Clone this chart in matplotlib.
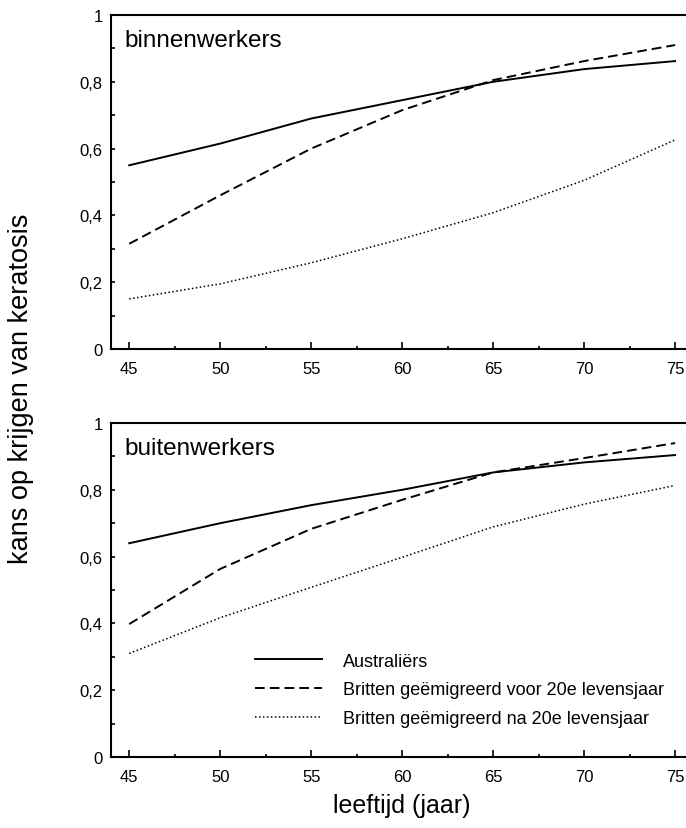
"""Kans op keratosis naar leeftijd, binnen- en buitenwerkers."""

import matplotlib

matplotlib.use("Agg")
import matplotlib.pyplot as plt
from matplotlib.ticker import FixedLocator, MultipleLocator

plt.rcParams["font.family"] = ["Liberation Sans", "DejaVu Sans"]

leeftijd = [45, 50, 55, 60, 65, 70, 75]

# binnenwerkers
binnen_aus = [0.55, 0.615, 0.69, 0.745, 0.80, 0.838, 0.862]
binnen_voor20 = [0.315, 0.46, 0.60, 0.715, 0.805, 0.862, 0.91]
binnen_na20 = [0.15, 0.195, 0.258, 0.33, 0.408, 0.505, 0.626]

# buitenwerkers
buiten_aus = [0.64, 0.70, 0.754, 0.80, 0.852, 0.882, 0.904]
buiten_voor20 = [0.398, 0.563, 0.683, 0.77, 0.852, 0.895, 0.94]
buiten_na20 = [0.31, 0.417, 0.508, 0.598, 0.689, 0.757, 0.813]

reeksen = ["Australiërs",
           "Britten geëmigreerd voor 20e levensjaar",
           "Britten geëmigreerd na 20e levensjaar"]
y_ticks = [0, 0.2, 0.4, 0.6, 0.8, 1.0]
y_labels = ["0", "0,2", "0,4", "0,6", "0,8", "1"]

W, H = 686, 829
fig = plt.figure(figsize=(W / 100, H / 100), dpi=100)

left = 111 / W
width = 1.0 - left
ax_top = fig.add_axes([left, 1 - 350 / H, width, 334 / H])
ax_bot = fig.add_axes([left, 1 - 758 / H, width, 334 / H])

styles = [
    dict(color="black", lw=1.4, linestyle="-"),
    dict(color="black", lw=1.4, linestyle=(0, (5, 2.6))),
    dict(color="black", lw=1.1, linestyle=(0, (1, 1.6))),
]


def draw_panel(ax, series, title):
    for vals, st, name in zip(series, styles, reeksen):
        ax.plot(leeftijd, vals, label=name, **st)
    ax.set_xlim(44.0, 75.6)
    ax.set_ylim(0, 1)
    ax.set_xticks(leeftijd)
    ax.xaxis.set_minor_locator(MultipleLocator(2.5))
    ax.yaxis.set_major_locator(FixedLocator(y_ticks))
    ax.set_yticklabels(y_labels)
    ax.yaxis.set_minor_locator(FixedLocator([0.1, 0.3, 0.5, 0.7, 0.9]))
    ax.tick_params(which="both", direction="in", width=1.2, labelsize=12,
                   top=False, right=False)
    ax.tick_params(axis="x", which="major", length=4.8, pad=8.5)
    ax.tick_params(axis="x", which="minor", length=2)
    ax.tick_params(axis="y", which="both", length=3, pad=6)
    for side in ("left", "bottom", "top"):
        ax.spines[side].set_linewidth(1.5)
    ax.spines["right"].set_visible(False)
    ax.text(0.023, 0.908, title, transform=ax.transAxes, fontsize=17.5,
            va="baseline", ha="left")


draw_panel(ax_top, [binnen_aus, binnen_voor20, binnen_na20], "binnenwerkers")
draw_panel(ax_bot, [buiten_aus, buiten_voor20, buiten_na20], "buitenwerkers")

ax_bot.legend(loc="upper left", bbox_to_anchor=(0.2504, 0.312), frameon=False,
              fontsize=13, handlelength=3.7, handletextpad=1.16,
              labelspacing=0.64, borderpad=0, borderaxespad=0)

fig.text(21 / W, 1 - 389 / H, "kans op krijgen van keratosis", rotation=90,
         fontsize=19.5, ha="center", va="center")
fig.text(402 / W, 1 - 813 / H, "leeftijd (jaar)", fontsize=18,
         ha="center", va="baseline")

fig.savefig("out.png", dpi=100)
plt.close(fig)
